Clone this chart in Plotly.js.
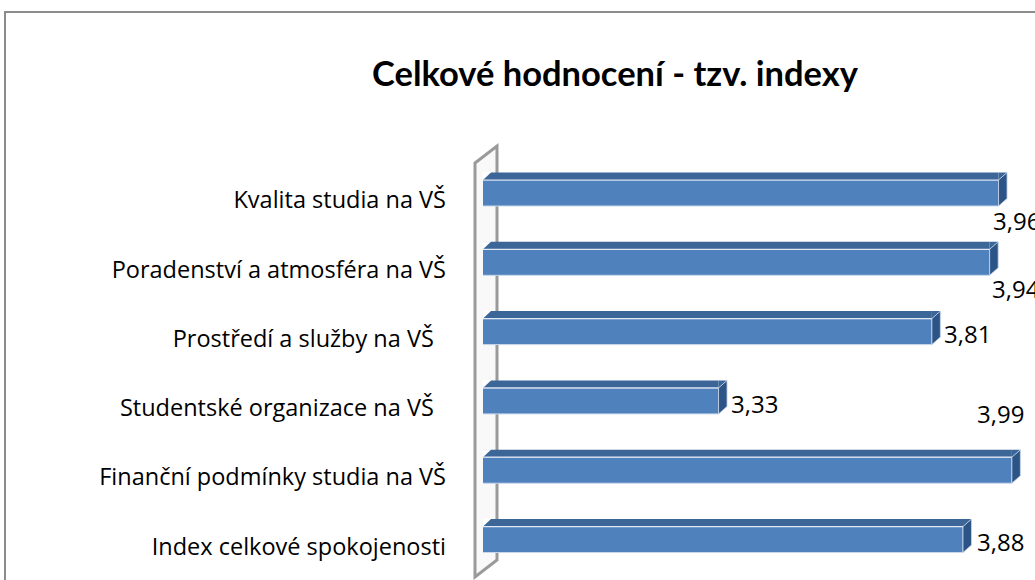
<!DOCTYPE html>
<html>
<head>
<meta charset="utf-8">
<script src="https://cdn.plot.ly/plotly-3.0.1.min.js"></script>
<style>
  html, body { margin: 0; padding: 0; background: #fff; overflow: hidden; }
  #chart { width: 1035px; height: 580px; }
</style>
</head>
<body>
<div id="chart"></div>
<script>
// ---- data ----
const chartTitle = 'Celkové hodnocení - tzv. indexy';
const categories = [
  'Kvalita studia na VŠ',
  'Poradenství a atmosféra na VŠ',
  'Prostředí a služby na VŠ ',
  'Studentské organizace na VŠ ',
  'Finanční podmínky studia na VŠ',
  'Index celkové spokojenosti'
];
const values = [3.96, 3.94, 3.81, 3.33, 3.99, 3.88];

// ---- style / layout ----
const W = 1035, H = 580;
const M = { l: 483, r: 0, t: 150, b: 0 };
const xRange = [2.8, 4.042];
const yRange = [5.483, -0.7215];
const labelShift = [[-8, -20], [0, -19], [10, 5], [10, 4], [-37, 64], [12, 5]]; // px offsets of data labels
const FRONT = '#4f81bd', TOP = '#3d6698', SIDE = '#2d5486';
const FONT = '"Open Sans", "Noto Sans", sans-serif';
const TFONT = 'Lato, "Open Sans", sans-serif';

const idx = categories.map((_, i) => i);
const fmt = v => v.toFixed(2).replace('.', ',');
const tickText = categories.map(c => c.replace(/ $/, '\u00a0\u00a0'));

const pw = W - M.l - M.r, ph = H - M.t - M.b;
const px2x = p => (p - M.l) / pw;
const px2y = p => (H - M.b - p) / ph;

const trace = {
  type: 'bar', orientation: 'h',
  x: values, y: idx,
  width: 0.375, offset: -0.2886,
  marker: { color: FRONT, line: { color: '#c9d7ea', width: 1 } },
  hoverinfo: 'skip', showlegend: false
};

const shapes = [];
// outer chart border
shapes.push({ type: 'rect', xref: 'paper', yref: 'paper',
  x0: px2x(5), x1: px2x(1045), y0: px2y(12), y1: px2y(600),
  line: { color: '#8c8c8c', width: 2 }, fillcolor: 'rgba(0,0,0,0)', layer: 'below' });
// 3D wall of the category axis
shapes.push({ type: 'path', xref: 'paper', yref: 'paper', layer: 'below',
  path: `M${px2x(475)},${px2y(163)} L${px2x(497)},${px2y(146)} L${px2x(497)},${px2y(560)} L${px2x(475)},${px2y(577)} Z`,
  line: { color: '#9a9a9a', width: 3 }, fillcolor: 'rgba(244,244,244,0.5)' });

values.forEach((v, i) => {
  // top face (rectangle part)
  shapes.push({ type: 'rect', xref: 'x', yref: 'y', x0: xRange[0], x1: v,
    ysizemode: 'pixel', yanchor: i, y0: 20, y1: 27.5,
    fillcolor: TOP, line: { width: 0 }, layer: 'above' });
  // left slant of top face
  shapes.push({ type: 'path', xref: 'x', yref: 'y', xsizemode: 'pixel', xanchor: xRange[0],
    ysizemode: 'pixel', yanchor: i,
    path: 'M0,20 L0,28 L8.5,28 Z', fillcolor: '#ffffff', line: { width: 0 }, layer: 'above' });
  // right slant of top face
  shapes.push({ type: 'path', xref: 'x', yref: 'y', xsizemode: 'pixel', xanchor: v,
    ysizemode: 'pixel', yanchor: i,
    path: 'M0,20 L8.5,27.5 L0,27.5 Z', fillcolor: TOP, line: { width: 0 }, layer: 'above' });
  // side face
  shapes.push({ type: 'path', xref: 'x', yref: 'y', xsizemode: 'pixel', xanchor: v,
    ysizemode: 'pixel', yanchor: i,
    path: 'M0,20 L8.5,27.5 L8.5,1.5 L0,-6 Z', fillcolor: SIDE,
    line: { color: '#c9d7ea', width: 0.8 }, layer: 'above' });
  // thin highlight between top and front face
  shapes.push({ type: 'line', xref: 'x', yref: 'y', x0: xRange[0], x1: v,
    ysizemode: 'pixel', yanchor: i, y0: 20, y1: 20,
    line: { color: '#dfe8f3', width: 1.2 }, layer: 'above' });
});

const annotations = values.map((v, i) => ({
  x: v, y: i, xref: 'x', yref: 'y', text: fmt(v), showarrow: false,
  xanchor: 'left', yanchor: 'middle',
  xshift: labelShift[i][0], yshift: labelShift[i][1],
  font: { family: FONT, size: 24, color: '#000' }
}));

const layout = {
  width: W, height: H,
  margin: M,
  paper_bgcolor: '#ffffff', plot_bgcolor: 'rgba(0,0,0,0)',
  title: { text: '<b>' + chartTitle + '</b>', font: { family: TFONT, size: 34.5, color: '#000' },
    xref: 'container', yref: 'container', x: 615 / W, xanchor: 'center', y: 1 - 74 / H, yanchor: 'middle' },
  xaxis: { range: xRange, visible: false, fixedrange: true },
  yaxis: { range: yRange, tickvals: idx, ticktext: tickText, showgrid: false, zeroline: false,
    showline: false, ticks: '', ticklabelstandoff: 36, fixedrange: true,
    tickfont: { family: FONT, size: 23.5, color: '#000' } },
  shapes: shapes,
  annotations: annotations,
  showlegend: false,
  bargap: 0
};

Plotly.newPlot('chart', [trace], layout, { displayModeBar: false, staticPlot: true });
</script>
</body>
</html>
